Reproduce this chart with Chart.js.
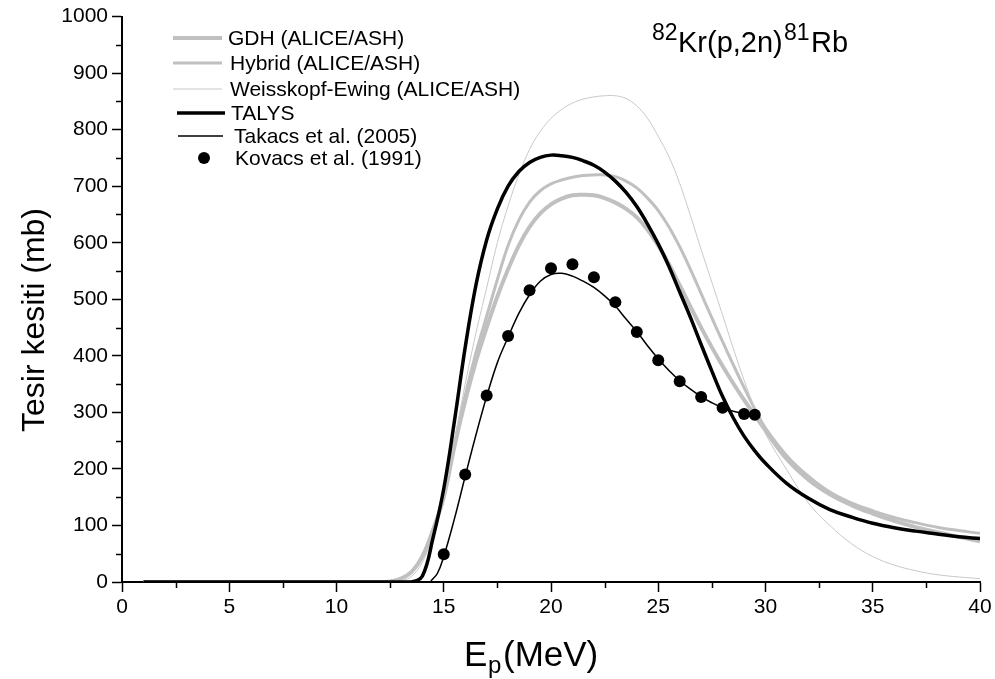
<!DOCTYPE html>
<html><head><meta charset="utf-8">
<script src="https://cdn.jsdelivr.net/npm/chart.js@4.4.1/dist/chart.umd.min.js"></script>
<style>html,body{margin:0;padding:0;background:#fff;}#wrap{width:995px;height:679px;}</style>
</head><body><div id="wrap"><canvas id="c" width="995" height="679"></canvas></div>
<script>
// ---- data ----
const energy = [1,5,10,12,12.5,13,13.5,14,14.5,15,15.5,16,16.5,17,17.5,18,18.5,19,19.5,20,20.5,21,21.5,22,22.5,23,23.5,24,24.5,25,25.5,26,26.5,27,27.5,28,28.5,29,29.5,30,31,32,33,34,35,36,37,38,39,40];
const gdh = [0,0,0,0,1,6,18,45,92,150,240,320,390,450,505,553,595,628,652,668,678,684,685,684,679,671,660,645,623,595,562,525,487,450,415,382,351,322,295,268,217,181,155,136,121,108,97,88,80,72];
const hybrid = [0,0,0,0,1,6,18,45,93,152,245,330,405,470,535,595,640,672,692,704,711,716,719,720,720,717,709,697,679,657,628,593,553,510,467,425,384,344,306,272,223,187,159,140,126,114,105,97,91,86];
const weisskopf = [0,0,0,0,0,2,10,35,82,148,250,350,440,520,600,665,720,765,797,820,836,847,854,858,860,860,855,842,820,788,752,705,648,588,530,472,413,357,307,262,198,140,100,68,45,30,20,13,9,6];
const talys = [0,0,0,0,0,0,0,10,78,165,285,415,525,605,660,700,726,742,751,755,754,751,745,737,725,709,689,664,633,598,558,513,468,420,373,328,290,258,232,210,174,148,128,115,104,96,90,85,80,77];
const takacsE = [14.4,14.7,15,15.5,16,16.5,17,17.5,18,18.5,19,19.5,20,20.5,21,21.5,22,22.5,23,23.5,24,24.5,25,25.5,26,26.5,27,27.5,28,28.5,29,29.5];
const takacsXS = [2,15,45,112,187,260,328,388,433,475,508,532,544,546,541,532,521,506,488,465,443,418,395,374,356,341,328,317,308,302,298,295];
const kovacsE = [15,16,17,18,19,20,21,22,23,24,25,26,27,28,29,29.5];
const kovacsXS = [49,190,330,435,516,555,562,539,495,442,392,355,327,308,297,296];
const xTickMinor = [2.5,7.5,12.5,17.5,22.5,27.5,32.5,37.5];
const yTickMinor = [50,150,250,350,450,550,650,750,850,950];
const legendLabels = ['GDH (ALICE/ASH)','Hybrid (ALICE/ASH)','Weisskopf-Ewing (ALICE/ASH)','TALYS','Takacs et al. (2005)','Kovacs et al. (1991)'];

const pts = (xs, ys) => xs.map((x, i) => ({x: x, y: ys[i]}));
const FONT = "'Liberation Sans', Arial, sans-serif";

const datasets = [
  {label: legendLabels[0], data: pts(energy, gdh), borderColor:'#c0c0c0', borderWidth:4, order:5},
  {label: legendLabels[1], data: pts(energy, hybrid), borderColor:'#c0c0c0', borderWidth:3, order:4},
  {label: legendLabels[2], data: pts(energy, weisskopf), borderColor:'#c8c8c8', borderWidth:1, order:3},
  {label: legendLabels[3], data: pts(energy, talys), borderColor:'#000', borderWidth:3.5, order:2},
  {label: legendLabels[4], data: pts(takacsE, takacsXS), borderColor:'#000', borderWidth:1.5, order:1},
  {label: legendLabels[5], data: pts(kovacsE, kovacsXS), borderColor:'#000', backgroundColor:'#000', showLine:false, pointRadius:6, pointBackgroundColor:'#000', pointBorderWidth:0, order:0}
];
datasets.forEach(d => { if (d.showLine !== false) { d.pointRadius = 0; d.tension = 0.4; d.fill = false; } });

const legendPos = [
  {x1:173, x2:222, y:38, tx:228},
  {x1:173, x2:222, y:63, tx:230},
  {x1:173, x2:222, y:89, tx:230},
  {x1:177, x2:225, y:113, tx:231},
  {x1:178, x2:223, y:136, tx:234},
  {x1:204, x2:204, y:158, tx:235}
];

const decor = {
  id: 'decor',
  afterDraw(chart) {
    const ctx = chart.ctx, xs = chart.scales.x, ys = chart.scales.y, a = chart.chartArea;
    ctx.save();
    ctx.strokeStyle = '#000'; ctx.lineWidth = 1.5;
    xTickMinor.forEach(v => { const p = Math.round(xs.getPixelForValue(v)) + 0.5; ctx.beginPath(); ctx.moveTo(p, a.bottom); ctx.lineTo(p, a.bottom + 6); ctx.stroke(); });
    yTickMinor.forEach(v => { const p = Math.round(ys.getPixelForValue(v)) + 0.5; ctx.beginPath(); ctx.moveTo(a.left, p); ctx.lineTo(a.left - 6, p); ctx.stroke(); });
    // legend
    ctx.textBaseline = 'middle'; ctx.textAlign = 'left';
    ctx.font = '21px ' + FONT;
    chart.data.datasets.forEach((d, i) => {
      const L = legendPos[i];
      if (d.showLine === false) {
        ctx.fillStyle = '#000'; ctx.beginPath(); ctx.arc(L.x1, L.y, 6, 0, Math.PI * 2); ctx.fill();
      } else {
        ctx.strokeStyle = d.borderColor; ctx.lineWidth = d.borderWidth;
        ctx.beginPath(); ctx.moveTo(L.x1, L.y); ctx.lineTo(L.x2, L.y); ctx.stroke();
      }
      ctx.fillStyle = '#000';
      ctx.fillText(d.label, L.tx, L.y + 1);
    });
    // reaction title
    ctx.textBaseline = 'alphabetic';
    ctx.font = '23px ' + FONT; ctx.fillText('82', 652, 40);
    ctx.font = '29px ' + FONT; ctx.fillText('Kr(p,2n)', 678, 52);
    ctx.font = '23px ' + FONT; ctx.fillText('81', 784, 40);
    ctx.font = '29px ' + FONT; ctx.fillText('Rb', 811, 52);
    // x title
    ctx.font = '35px ' + FONT; ctx.fillText('E', 464, 666);
    ctx.font = '24px ' + FONT; ctx.fillText('p', 488, 673);
    ctx.font = '35px ' + FONT; ctx.fillText('(MeV)', 503, 666);
    // y title
    ctx.save(); ctx.translate(44, 320); ctx.rotate(-Math.PI / 2);
    ctx.textAlign = 'center'; ctx.font = '32px ' + FONT; ctx.fillText('Tesir kesiti (mb)', 0, 0);
    ctx.restore();
    ctx.restore();
  }
};

new Chart(document.getElementById('c'), {
  type: 'line',
  data: {datasets: datasets},
  options: {
    responsive: false, animation: false, devicePixelRatio: 1,
    layout: {padding: {top: 16, right: 15, left: 0, bottom: 0}},
    plugins: {legend: {display: false}, tooltip: {enabled: false}},
    scales: {
      x: {type: 'linear', min: 0, max: 40, afterFit: s => { s.height = 97; },
        ticks: {stepSize: 5, color: '#000', font: {family: FONT, size: 21}, padding: 3, maxRotation: 0, autoSkip: false, callback: v => String(v)},
        grid: {drawOnChartArea: false, drawTicks: true, tickLength: 10, tickWidth: 1.5, tickColor: '#000'},
        border: {display: true, color: '#000', width: 2}},
      y: {type: 'linear', min: 0, max: 1000, afterFit: s => { s.width = 122; },
        ticks: {stepSize: 100, color: '#000', font: {family: FONT, size: 21}, padding: 4, autoSkip: false, callback: v => String(v)},
        grid: {drawOnChartArea: false, drawTicks: true, tickLength: 10, tickWidth: 1.5, tickColor: '#000'},
        border: {display: true, color: '#000', width: 2}}
    }
  },
  plugins: [decor]
});
</script></body></html>
